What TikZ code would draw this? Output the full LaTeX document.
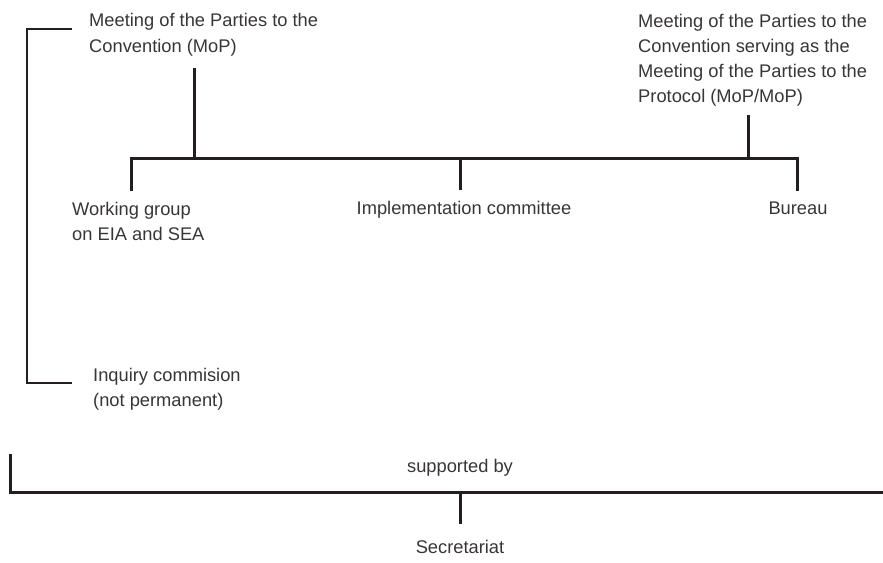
\documentclass[tikz,border=0pt]{standalone}
\usepackage{fontspec}
\usepackage{xcolor}
\usepackage{tikz}
\setmainfont{Liberation Sans}
\definecolor{ink}{HTML}{231F20}

\begin{document}
\begin{tikzpicture}[x=1pt, y=-1pt, bar/.style={draw=ink, line width=3pt}, thinbar/.style={draw=ink, line width=1.2pt}, every node/.style={inner sep=0pt, align=left, text=ink!90, font=\fontsize{18.3}{25}\selectfont}]
    \useasboundingbox (0,0) rectangle (883,562);
    % bodies (base = last line)
    \node (mop) [anchor=base west] at (89,52) {Meeting of the Parties to the\\Convention (MoP)};
    \node (mopmop) [anchor=base west] at (638,102) {Meeting of the Parties to the\\Convention serving as the\\Meeting of the Parties to the\\Protocol (MoP/MoP)};
    \node (wg) [anchor=base west] at (72,240) {Working group\\on EIA and SEA};
    \node (impl) [anchor=base] at (464,214) {Implementation committee};
    \node (bureau) [anchor=base] at (798,214) {Bureau};
    \node (inquiry) [anchor=base west] at (93,406) {Inquiry commision\\(not permanent)};
    \node (supp) [anchor=base] at (460,472) {supported by};
    \node (secr) [anchor=base] at (460,553) {Secretariat};
    % junctions
    \coordinate (mopj) at (194,158);
    \coordinate (mopmopj) at (748,158);
    \coordinate (wgj) at (131,158);
    \coordinate (implj) at (460,158);
    \coordinate (bureauj) at (797,158);
    \coordinate (suppl) at (10,454);
    \coordinate (suppr) at (883,492);
    % links
    \draw[bar] ([yshift=-12pt]mop.south -| mopj) -- (mopj);
    \draw[bar] ([yshift=-9pt]mopmop.south -| mopmopj) -- (mopmopj);
    \draw[bar] ([yshift=11pt]wg.north -| wgj) -- (wgj) -- (bureauj) -- ([yshift=11pt]wg.north -| bureauj);
    \draw[bar] (implj) -- ([yshift=11pt]impl.north -| implj);
    \draw[bar] (suppl) |- (suppr);
    \draw[bar] (supp.south |- suppr) -- ([yshift=16pt]secr.north);
    \draw[thinbar] ([xshift=-17pt,yshift=23pt]mop.base west) -| ([xshift=-66pt,yshift=23pt]inquiry.base west) -- ([xshift=-21pt,yshift=23pt]inquiry.base west);
  \end{tikzpicture}
\end{document}
